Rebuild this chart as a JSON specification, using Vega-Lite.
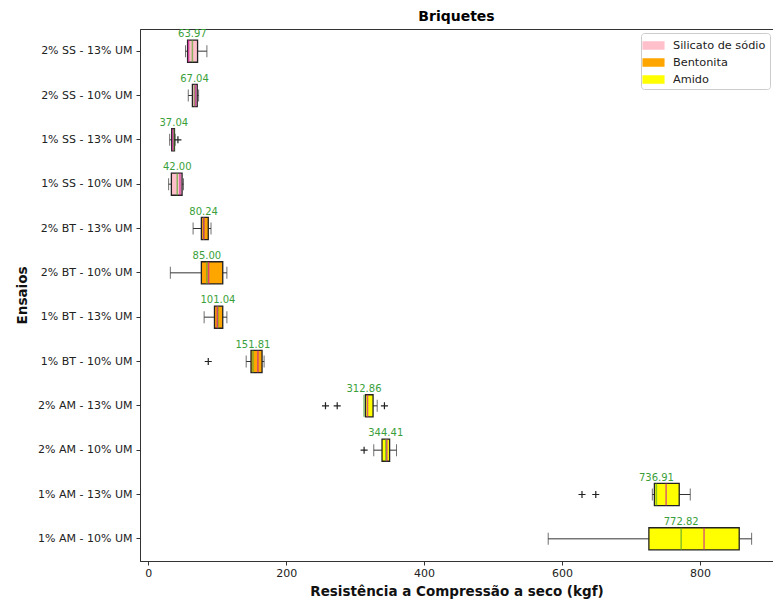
{
  "$schema": "https://vega.github.io/schema/vega-lite/v6.json",
  "autosize": {"type": "none"},
  "padding": {"left": 140, "top": 29, "right": 0, "bottom": 40},
  "width": 633,
  "height": 532,
  "title": {"text": "Briquetes", "fontSize": 14, "fontWeight": "bold", "font": "DejaVu Sans", "color": "#000", "offset": 5},
  "config": {
    "font": "DejaVu Sans",
    "view": {"stroke": "#333", "strokeWidth": 1},
    "axis": {"grid": false, "domainColor": "#333", "tickColor": "#333", "labelColor": "#222", "labelFontSize": 11, "titleFontSize": 13.5, "titleFontWeight": "bold", "titleColor": "#111", "tickSize": 4}
  },
  "datasets": {
    "stats": [
      {"ensaio": "2% SS - 13% UM", "aditivo": "Silicato de sódio", "lw": 54, "q1": 57, "med": 58.5, "mean": 63.97, "q3": 71.5, "uw": 85},
      {"ensaio": "2% SS - 10% UM", "aditivo": "Silicato de sódio", "lw": 58, "q1": 64, "med": 68.5, "mean": 67.04, "q3": 71, "uw": 73},
      {"ensaio": "1% SS - 13% UM", "aditivo": "Silicato de sódio", "lw": 31, "q1": 34, "med": 35.5, "mean": 37.04, "q3": 38, "uw": 39},
      {"ensaio": "1% SS - 10% UM", "aditivo": "Silicato de sódio", "lw": 29.5, "q1": 33.5, "med": 46, "mean": 42.00, "q3": 49, "uw": 51},
      {"ensaio": "2% BT - 13% UM", "aditivo": "Bentonita", "lw": 65, "q1": 77, "med": 80.5, "mean": 80.24, "q3": 87, "uw": 91},
      {"ensaio": "2% BT - 10% UM", "aditivo": "Bentonita", "lw": 32, "q1": 77, "med": 87.5, "mean": 85.00, "q3": 108, "uw": 114},
      {"ensaio": "1% BT - 13% UM", "aditivo": "Bentonita", "lw": 81, "q1": 96, "med": 100, "mean": 101.04, "q3": 108, "uw": 114},
      {"ensaio": "1% BT - 10% UM", "aditivo": "Bentonita", "lw": 142, "q1": 149, "med": 159, "mean": 151.81, "q3": 165, "uw": 168},
      {"ensaio": "2% AM - 13% UM", "aditivo": "Amido", "lw": 315, "q1": 315, "med": 318, "mean": 312.86, "q3": 326, "uw": 332},
      {"ensaio": "2% AM - 10% UM", "aditivo": "Amido", "lw": 327, "q1": 339, "med": 346, "mean": 344.41, "q3": 350, "uw": 360},
      {"ensaio": "1% AM - 13% UM", "aditivo": "Amido", "lw": 731, "q1": 734, "med": 751, "mean": 736.91, "q3": 770, "uw": 786},
      {"ensaio": "1% AM - 10% UM", "aditivo": "Amido", "lw": 580, "q1": 726, "med": 806, "mean": 772.82, "q3": 857, "uw": 875}
    ],
    "outliers": [
      {"ensaio": "1% SS - 13% UM", "valor": 43},
      {"ensaio": "1% BT - 10% UM", "valor": 87},
      {"ensaio": "2% AM - 13% UM", "valor": 257},
      {"ensaio": "2% AM - 13% UM", "valor": 274},
      {"ensaio": "2% AM - 13% UM", "valor": 342.5},
      {"ensaio": "2% AM - 10% UM", "valor": 313},
      {"ensaio": "1% AM - 13% UM", "valor": 629},
      {"ensaio": "1% AM - 13% UM", "valor": 649}
    ]
  },
  "encoding": {
    "y": {
      "field": "ensaio", "type": "nominal", "sort": null, "title": "Ensaios",
      "scale": {"paddingInner": 0, "paddingOuter": 0},
      "axis": {"titlePadding": 8, "labelPadding": 4}
    }
  },
  "layer": [
    {
      "data": {"name": "stats"},
      "mark": {"type": "rule", "color": "#333", "strokeWidth": 1},
      "encoding": {
        "x": {"field": "lw", "type": "quantitative", "title": "Resistência a Compressão a seco (kgf)",
          "scale": {"domain": [-12, 906], "nice": false, "zero": false},
          "axis": {"values": [0, 200, 400, 600, 800], "titlePadding": 6}},
        "x2": {"field": "uw"}
      }
    },
    {
      "data": {"name": "stats"},
      "mark": {"type": "tick", "color": "#333", "thickness": 1, "size": 12},
      "encoding": {"x": {"field": "lw", "type": "quantitative"}}
    },
    {
      "data": {"name": "stats"},
      "mark": {"type": "tick", "color": "#333", "thickness": 1, "size": 12},
      "encoding": {"x": {"field": "uw", "type": "quantitative"}}
    },
    {
      "data": {"name": "stats"},
      "mark": {"type": "bar", "height": {"band": 0.5}, "stroke": "#222", "strokeWidth": 1.3, "opacity": 1},
      "encoding": {
        "x": {"field": "q1", "type": "quantitative"},
        "x2": {"field": "q3"},
        "color": {"field": "aditivo", "type": "nominal",
          "scale": {"domain": ["Silicato de sódio", "Bentonita", "Amido"], "range": ["#ffc0cb", "#ffa500", "#ffff00"]},
          "legend": {"title": null, "orient": "none", "legendX": 501, "legendY": 4, "fillColor": "white", "strokeColor": "#ccc", "cornerRadius": 3, "padding": 4,
            "symbolType": "M-1.3,-0.5H1.3V0.5H-1.3Z", "symbolSize": 289, "symbolStrokeWidth": 0, "symbolOpacity": 1, "labelOffset": 11,
            "labelFontSize": 11.3, "labelColor": "#222", "rowPadding": 3}}
      }
    },
    {
      "data": {"name": "stats"},
      "mark": {"type": "tick", "color": "#5aa832", "thickness": 1.5, "size": 22},
      "encoding": {"x": {"field": "mean", "type": "quantitative"}}
    },
    {
      "data": {"name": "stats"},
      "mark": {"type": "tick", "color": "#c81f95", "thickness": 1.5, "size": 22},
      "encoding": {"x": {"field": "med", "type": "quantitative"}}
    },
    {
      "data": {"name": "outliers"},
      "mark": {"type": "point", "shape": "M-1,0L1,0M0,-1L0,1", "filled": false, "color": "#222", "strokeWidth": 1.2, "size": 50, "opacity": 1},
      "encoding": {"x": {"field": "valor", "type": "quantitative"}}
    },
    {
      "data": {"name": "stats"},
      "mark": {"type": "text", "color": "#3a9f3a", "fontSize": 10, "baseline": "bottom", "dy": -12},
      "encoding": {
        "x": {"field": "mean", "type": "quantitative"},
        "text": {"field": "mean", "type": "quantitative", "format": ".2f"}
      }
    }
  ]
}
